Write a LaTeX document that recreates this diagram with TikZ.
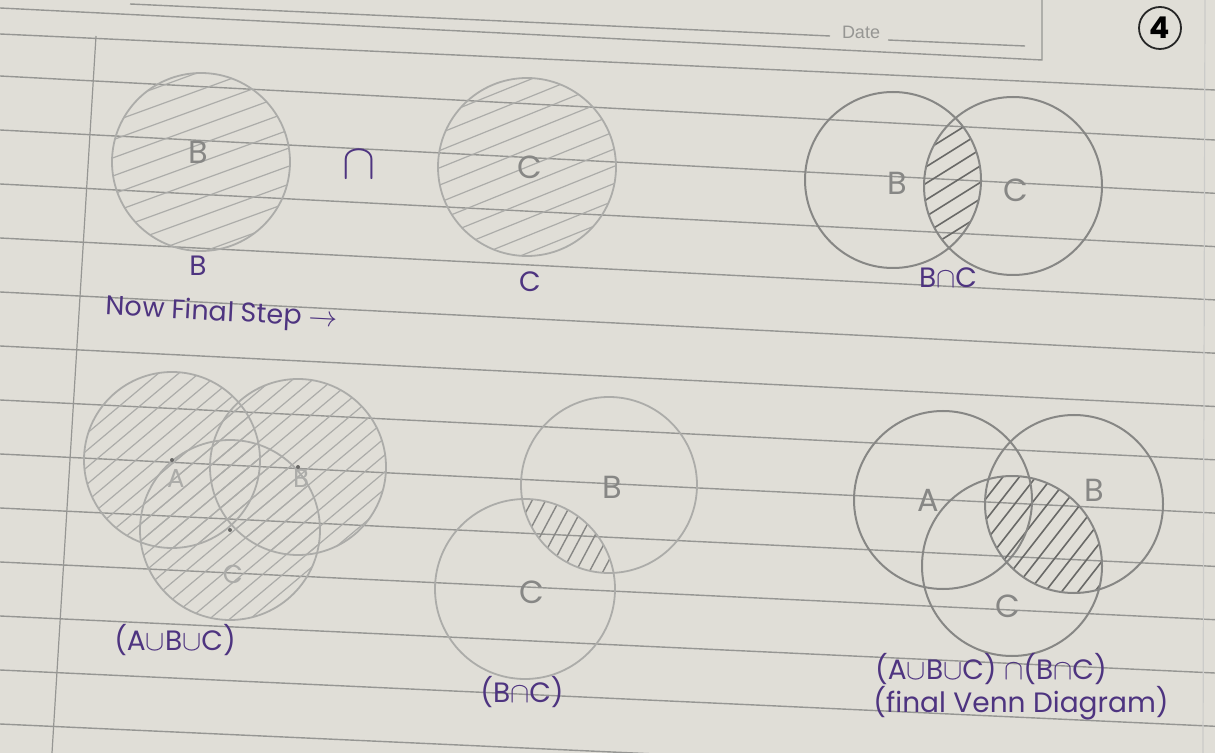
\documentclass[tikz,border=0pt]{standalone}
\usepackage{fontspec}
\usepackage{tikz}
\usetikzlibrary{positioning}
\newfontfamily\handfont{Poppins}
\newfontfamily\printfont{Liberation Sans}
\definecolor{paper}{RGB}{224,222,215}
\definecolor{rulegray}{RGB}{150,150,147}
\definecolor{pencilgray}{RGB}{135,135,133}
\definecolor{pencillight}{RGB}{172,172,169}
\definecolor{pencildark}{RGB}{105,105,103}
\definecolor{inkpurple}{RGB}{78,52,128}

\newcommand{\hatchfill}[5]{%
  \begin{scope}[shift={(#1,#2)}, rotate=#3]
    \foreach \k in {-16,...,16} \draw[#5] (-260,\k*#4) -- (260,\k*#4);
  \end{scope}}

\begin{document}
\begin{tikzpicture}[x=0.5pt, y=-0.5pt,
  rule/.style={draw=rulegray, line width=0.7pt},
  pencil/.style={draw=pencilgray, line width=1pt},
  faintpencil/.style={draw=pencillight, line width=0.9pt},
  hatchlight/.style={draw=pencillight, line width=0.6pt},
  hatchmid/.style={draw=pencilgray, line width=0.7pt},
  hatchdark/.style={draw=pencildark, line width=0.8pt},
  ink/.style={text=inkpurple, font=\handfont\fontsize{14}{16}\selectfont},
  lead/.style={text=pencilgray, font=\handfont\fontsize{16}{18}\selectfont},
  faintlead/.style={text=pencillight, font=\handfont\fontsize{13}{15}\selectfont}
]
\useasboundingbox (0,0) rectangle (1215,753);
\fill[paper] (0,0) rectangle (1215,753);

% notebook page
\foreach \k in {0,...,12} \draw[rule] (0,{76+54*\k}) -- (1215,{140+53.3*\k});
\draw[rule] (130,4) -- (830,36);
\node[text=rulegray, font=\printfont\fontsize{9}{9}\selectfont] (date) at (861,32) {Date};
\draw[rule] (888,40) -- (1025,46);
\draw[rule] (0,8) -- (1042,60) -- (1042,0);
\draw[rule] (0,34) -- (1215,90);
\draw[rule, line width=0.6pt] (96,36) -- (52,753);
\draw[draw=rulegray!50, line width=0.6pt] (1205,0) -- (1203,753);
\node[draw=black!85, line width=0.9pt, circle, minimum size=21pt, inner sep=0pt,
      font=\handfont\bfseries\fontsize{15}{15}\selectfont] (pageno) at (1160,28) {4};

% B and C
\coordinate (tb) at (201,162);
\coordinate (tc) at (527,167);
\begin{scope}
  \clip (tb) circle[radius=89];
  \hatchfill{201}{162}{20}{17}{hatchlight}
\end{scope}
\begin{scope}
  \clip (tc) circle[radius=89];
  \hatchfill{527}{167}{22}{16}{hatchlight}
\end{scope}
\draw[faintpencil] (tb) circle[radius=89];
\draw[faintpencil] (tc) circle[radius=89];
\node[lead] (tbname) at (198,152) {B};
\node[lead] (tcname) at (530,167) {C};
\node[ink] (tblabel) at (198,266) {B};
\node[ink] (tclabel) at (530,282) {C};
\node[text=inkpurple, font=\fontsize{32}{32}\selectfont] (capsign) at (359,165) {$\cap$};

% B cap C
\coordinate (ib) at (893,180);
\coordinate (ic) at (1013,186);
\begin{scope}
  \clip (ib) circle[radius=88];
  \clip (ic) circle[radius=89];
  \hatchfill{953}{183}{32}{14}{hatchdark}
\end{scope}
\draw[pencil] (ib) circle[radius=88];
\draw[pencil] (ic) circle[radius=89];
\node[lead] (ibname) at (897,183) {B};
\node[lead] (icname) at (1016,190) {C};
\node[ink] (iblabel) at (948,278) {B$\cap$C};

\node[ink, font=\handfont\fontsize{13.5}{15}\selectfont, rotate=-3] (nextstep) at (222,314) {Now Final Step $\rightarrow$};

% A cup B cup C
\coordinate (ua) at (172,460);
\coordinate (ub) at (298,467);
\coordinate (uc) at (230,530);
\foreach \c/\r in {ua/88, ub/88, uc/90} {
  \begin{scope}
    \clip (\c) circle[radius=\r];
    \hatchfill{230}{500}{40}{13}{hatchlight}
  \end{scope}
}
\foreach \c/\r in {ua/88, ub/88, uc/90} \draw[faintpencil] (\c) circle[radius=\r];
\foreach \c in {ua, ub, uc} \fill[pencildark] (\c) circle[radius=2];
\node[faintlead] (uaname) at (176,478) {A};
\node[faintlead] (ubname) at (301,478) {B};
\node[faintlead] (ucname) at (233,574) {C};
\node[ink] (ulabel) at (175,640) {(A$\cup$B$\cup$C)};

% (B cap C)
\coordinate (mb) at (609,485);
\coordinate (mc) at (525,589);
\begin{scope}
  \clip (mb) circle[radius=88];
  \clip (mc) circle[radius=90];
  \hatchfill{567}{537}{62}{12}{hatchmid}
\end{scope}
\draw[faintpencil] (mb) circle[radius=88];
\draw[faintpencil] (mc) circle[radius=90];
\node[lead] (mbname) at (612,487) {B};
\node[lead] (mcname) at (532,592) {C};
\node[ink] (mlabel) at (522,692) {(B$\cap$C)};

% final
\coordinate (fa) at (943,500);
\coordinate (fb) at (1074,504);
\coordinate (fc) at (1012,566);
\begin{scope}
  \clip (fb) circle[radius=89];
  \clip (fc) circle[radius=90];
  \hatchfill{1040}{535}{52}{13}{hatchdark}
\end{scope}
\draw[pencil] (fa) circle[radius=89];
\draw[pencil] (fb) circle[radius=89];
\draw[pencil] (fc) circle[radius=90];
\node[lead] (faname) at (928,500) {A};
\node[lead] (fbname) at (1094,490) {B};
\node[lead] (fcname) at (1008,606) {C};
\node[ink] (flabel) at (991,669) {(A$\cup$B$\cup$C) $\cap$(B$\cap$C)};
\node[ink] (fnote) at (1021,703) {(final Venn Diagram)};
\end{tikzpicture}
\end{document}
